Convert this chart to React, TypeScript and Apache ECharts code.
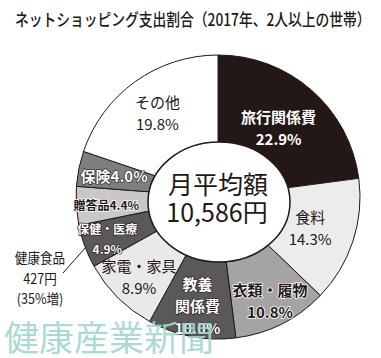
import React, { useEffect, useRef } from 'react';
import * as echarts from 'echarts';

// ---- data ----
const categories = ['旅行関係費', '食料', '衣類・履物', '教養関係費', '家電・家具', '保健・医療', '贈答品', '保険', 'その他'];
const shares = [22.9, 14.3, 10.8, 10.0, 8.9, 4.9, 4.4, 4.0, 19.8];
const labelNames = ['旅行関係費', '食料', '衣類・履物', '教養\n関係費', '家電・家具', '保健・医療', '贈答品', '保険', 'その他'];
const inlineLabels = ['贈答品', '保険'];
const titleText = 'ネットショッピング支出割合（2017年、2人以上の世帯）';
const centerTitle = '月平均額';
const centerAmount = '10,586円';
const noteLines = ['健康食品', '427円', '(35%増)'];
const watermark = '健康産業新聞';

// ---- styles ----
const INK = '#231815';
const FONT = "'Noto Sans CJK JP', 'Noto Sans', sans-serif";
const fills: Record<string, string> = {
  '旅行関係費': '#231815',
  '食料': '#ececec',
  '衣類・履物': '#a4a4a4',
  '教養関係費': '#5a5858',
  '家電・家具': '#e9e9e9',
  '保健・医療': '#5a5858',
  '贈答品': '#c8c8c8',
  '保険': '#7e7e7e',
  'その他': '#ffffff',
};
const labelKind: Record<string, string> = {
  '旅行関係費': 'dark',
  '食料': 'light',
  '衣類・履物': 'mid',
  '教養関係費': 'dark',
  '家電・家具': 'light',
  '保健・医療': 'dark',
  '贈答品': 'mid',
  '保険': 'dark',
  'その他': 'light',
};
// distance of each label from the centre (label placement style)
const labelRadius: Record<string, number> = {
  '旅行関係費': 92,
  '食料': 97,
  '衣類・履物': 116,
  '教養関係費': 110,
  '家電・家具': 112,
  '保健・医療': 118,
  '贈答品': 112,
  '保険': 106,
  'その他': 104,
};
const smallLabels = ['保健・医療', '贈答品'];
const CX = 218;
const CY = 197;
const OUTER = 142;

function labelStyle(name: string) {
  const kind = labelKind[name];
  const size = smallLabels.includes(name) ? 12 : 15;
  const base: any = {
    show: true,
    position: 'inside',
    fontFamily: FONT,
    fontSize: size,
    lineHeight: size === 12 ? 20 : 22,
    align: 'center',
    verticalAlign: 'middle',
  };
  if (kind === 'dark') {
    return { ...base, color: '#ffffff', fontWeight: 'bold', textBorderColor: INK, textBorderWidth: 1.2 };
  }
  if (kind === 'mid') {
    return { ...base, color: INK, fontWeight: 'bold', textBorderColor: '#ffffff', textBorderWidth: 1.5 };
  }
  return { ...base, color: INK, fontWeight: 'normal', textBorderWidth: 0 };
}

export default function App() {
  const ref = useRef<HTMLDivElement>(null);
  useEffect(() => {
    document.body.style.margin = '0';
    if (!ref.current) return;
    const chart = echarts.init(ref.current, null, { renderer: 'svg' });

    const total = shares.reduce((a, b) => a + b, 0);
    const fillData = categories.map((name, i) => ({
      name,
      value: shares[i],
      itemStyle: { color: fills[name] },
    }));
    let acc = 0;
    const labelData = categories.map((name, i) => {
      const mid = acc + shares[i] / 2;
      acc += shares[i];
      const pct = shares[i].toFixed(1) + '%';
      const text = inlineLabels.includes(name) ? labelNames[i] + pct : labelNames[i] + '\n' + pct;
      return {
        name,
        value: [labelRadius[name], mid],
        label: { ...labelStyle(name), formatter: text },
      };
    });

    const textStyle = (extra: any) => ({
      fontFamily: FONT,
      fill: INK,
      ...extra,
    });

    chart.setOption({
      animation: false,
      backgroundColor: '#ffffff',
      polar: { center: [CX, CY], radius: OUTER },
      angleAxis: {
        type: 'value',
        min: 0,
        max: total,
        startAngle: 90,
        clockwise: true,
        show: false,
        axisLine: { show: false },
        splitLine: { show: false },
        axisTick: { show: false },
        axisLabel: { show: false },
      },
      radiusAxis: {
        type: 'value',
        min: 0,
        max: OUTER,
        show: false,
        axisLine: { show: false },
        splitLine: { show: false },
        axisTick: { show: false },
        axisLabel: { show: false },
      },
      series: [
        {
          type: 'pie',
          z: 2,
          silent: true,
          center: [CX, CY],
          radius: [40, OUTER],
          startAngle: 90,
          clockwise: true,
          label: { show: false },
          labelLine: { show: false },
          itemStyle: { borderColor: INK, borderWidth: 1 },
          data: fillData,
        },
        {
          type: 'scatter',
          coordinateSystem: 'polar',
          z: 5,
          silent: true,
          symbolSize: 2,
          itemStyle: { color: 'rgba(0,0,0,0)', borderWidth: 0, opacity: 1 },
          data: labelData,
        },
      ],
      graphic: [
        {
          type: 'text',
          x: 15,
          y: 18,
          scaleX: 0.81,
          z: 10,
          style: textStyle({
            text: titleText,
            fontSize: 17,
            fontWeight: 500,
            align: 'left',
            textAlign: 'left',
            verticalAlign: 'middle',
            textVerticalAlign: 'middle',
          }),
        },
        {
          type: 'ellipse',
          z: 3,
          shape: { cx: 219, cy: 202, rx: 71, ry: 60 },
          style: { fill: '#ffffff', stroke: INK, lineWidth: 1.5 },
        },
        {
          type: 'text',
          x: 218,
          y: 183,
          z: 6,
          style: textStyle({
            text: centerTitle,
            fontSize: 25,
            align: 'center',
            textAlign: 'center',
            verticalAlign: 'middle',
            textVerticalAlign: 'middle',
          }),
        },
        {
          type: 'text',
          x: 217,
          y: 211,
          z: 6,
          style: textStyle({
            text: centerAmount,
            fontSize: 25,
            align: 'center',
            textAlign: 'center',
            verticalAlign: 'middle',
            textVerticalAlign: 'middle',
          }),
        },
        {
          type: 'text',
          x: 40,
          y: 278,
          z: 6,
          scaleX: 0.9,
          style: textStyle({
            text: noteLines.join('\n'),
            fontSize: 14,
            lineHeight: 20.5,
            align: 'center',
            textAlign: 'center',
            verticalAlign: 'middle',
            textVerticalAlign: 'middle',
          }),
        },
        {
          type: 'line',
          z: 6,
          shape: { x1: 63, y1: 273, x2: 86, y2: 247 },
          style: { stroke: INK, lineWidth: 1 },
        },
        {
          type: 'text',
          x: 4,
          y: 335,
          z: 20,
          style: {
            text: watermark,
            fontFamily: FONT,
            fontSize: 35,
            fill: '#a3d6cf',
            opacity: 0.92,
            align: 'left',
            textAlign: 'left',
            verticalAlign: 'middle',
            textVerticalAlign: 'middle',
          },
        },
      ],
    });
    return () => chart.dispose();
  }, []);
  return <div ref={ref} style={{ width: 381, height: 358 }} />;
}
